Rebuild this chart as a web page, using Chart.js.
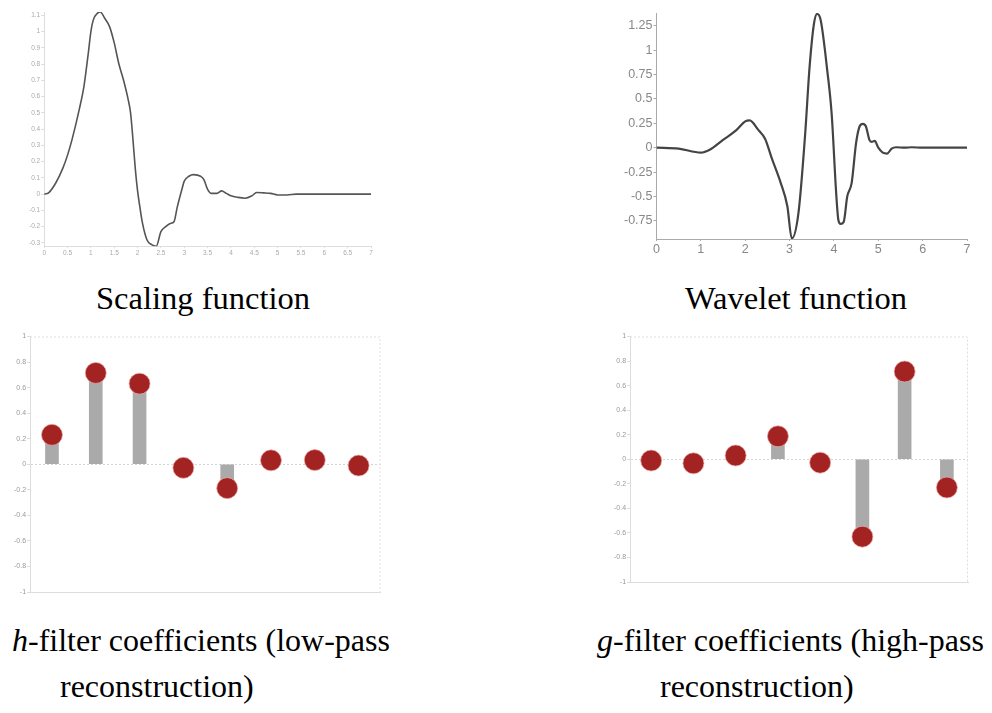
<!DOCTYPE html>
<html>
<head>
<meta charset="utf-8">
<script src="https://cdn.jsdelivr.net/npm/chart.js@4"></script>
<style>
  body { margin: 0; background: #fff; width: 992px; height: 713px; position: relative; overflow: hidden; }
  .box { position: absolute; }
  .cap { position: absolute; font-family: "Liberation Serif", "Times New Roman", serif; font-size: 32.5px; line-height: 46px; color: #000; white-space: nowrap; }
  .cap.low { font-size: 32px; }
</style>
</head>
<body>
<div class="box" id="b1" style="left:0;top:0;width:380px;height:262px"><canvas id="phiChart"></canvas></div>
<div class="box" id="b2" style="left:600px;top:0;width:392px;height:262px"><canvas id="psiChart"></canvas></div>
<div class="box" id="b3" style="left:0;top:325px;width:392px;height:285px"><canvas id="hChart"></canvas></div>
<div class="box" id="b4" style="left:590px;top:325px;width:392px;height:280px"><canvas id="gChart"></canvas></div>

<div class="cap" style="left:0;width:406px;top:275px;text-align:center">Scaling function</div>
<div class="cap" style="left:600px;width:392px;top:275px;text-align:center">Wavelet function</div>
<div class="cap low" style="left:12px;top:617px"><i>h</i>-filter coefficients (low-pass</div>
<div class="cap low" style="left:60px;top:663px">reconstruction)</div>
<div class="cap low" style="left:597px;top:617px"><i>g</i>-filter coefficients (high-pass</div>
<div class="cap low" style="left:660px;top:663px">reconstruction)</div>

<script>
// scaling function samples
const phiX = [0, 0.1, 0.25, 0.4, 0.5, 0.6, 0.75, 0.85, 0.95, 1.0, 1.05, 1.15, 1.2, 1.3, 1.4, 1.5, 1.6, 1.7, 1.8, 1.85, 1.9, 1.95,
  2.0, 2.05, 2.1, 2.2, 2.3, 2.4, 2.5, 2.6, 2.7, 2.78, 2.85, 2.95, 3.0, 3.1, 3.2, 3.35, 3.42, 3.5, 3.58, 3.7, 3.8, 3.9,
  4.0, 4.15, 4.3, 4.45, 4.55, 4.7, 4.85, 5.0, 5.2, 5.4, 6.0, 7.0];
const phiY = [0, 0.01, 0.07, 0.16, 0.24, 0.34, 0.52, 0.66, 0.88, 1.0, 1.07, 1.115, 1.12, 1.08, 1.03, 0.93, 0.80, 0.70, 0.58, 0.50, 0.34, 0.16,
  0.02, -0.08, -0.17, -0.28, -0.31, -0.32, -0.23, -0.2, -0.18, -0.17, -0.08, 0.03, 0.08, 0.11, 0.12, 0.11, 0.09, 0.03, 0.005, 0.005, 0.02, 0.005,
  -0.01, -0.02, -0.025, -0.01, 0.01, 0.008, 0.005, -0.005, -0.005, 0, 0, 0];

// wavelet function samples
const psiX = [0, 0.5, 1.0, 1.2, 1.5, 1.8, 2.0, 2.1, 2.3, 2.45, 2.6, 2.8, 2.95, 3.05, 3.2, 3.35, 3.45, 3.55, 3.62, 3.7, 3.85, 3.95,
  4.05, 4.1, 4.15, 4.22, 4.3, 4.4, 4.5, 4.58, 4.65, 4.72, 4.8, 4.85, 4.92, 5.0, 5.1, 5.2, 5.3, 5.4, 5.6, 5.75, 6.0, 7.0];
const psiY = [0, -0.01, -0.05, -0.02, 0.08, 0.18, 0.27, 0.28, 0.18, 0.09, -0.11, -0.36, -0.6, -0.93, -0.67, 0.13, 0.82, 1.27, 1.37, 1.31, 0.79, 0.34,
  -0.46, -0.74, -0.78, -0.76, -0.5, -0.36, 0.05, 0.22, 0.245, 0.22, 0.08, 0.06, 0.07, 0, -0.05, -0.06, -0.01, 0.005, 0, 0.005, 0, 0];

// filter taps
const taps = ['0', '1', '2', '3', '4', '5', '6', '7'];
const hCoef = [0.2304, 0.7148, 0.6309, -0.0280, -0.1870, 0.0308, 0.0329, -0.0106];
const gCoef = [-0.0106, -0.0329, 0.0308, 0.1870, -0.0280, -0.6309, 0.7148, -0.2304];

const phiTicks = { min: -0.32, max: 1.12, step: 0.1 };
const psiTicks = { min: -0.935, max: 1.38, step: 0.25 };

const sans = '"Liberation Sans", Arial, sans-serif';
Chart.defaults.font.family = sans;
Chart.defaults.animation = false;

// plain labels: 1, 0.5, -0.25 (no padded decimals)
const plain = v => String(Math.round(v * 1000) / 1000);

function toPoints(xs, ys) {
  return xs.map((x, i) => ({ x: x, y: ys[i] }));
}

function curveChart(id, xs, ys, range, xStep, opts) {
  return new Chart(document.getElementById(id), {
    type: 'line',
    data: {
      datasets: [{
        data: toPoints(xs, ys),
        borderColor: opts.color,
        borderWidth: opts.width,
        pointRadius: 0,
        cubicInterpolationMode: 'monotone',
        fill: false
      }]
    },
    options: {
      responsive: true,
      maintainAspectRatio: false,
      layout: { padding: opts.padding },
      plugins: { legend: { display: false }, tooltip: { enabled: false } },
      scales: {
        x: {
          type: 'linear', min: 0, max: 7,
          grid: { drawOnChartArea: false, drawTicks: true, tickLength: 2, tickColor: opts.axis },
          border: { color: opts.axis, width: 1 },
          ticks: { stepSize: xStep, maxRotation: 0, autoSkip: false, padding: 1, color: opts.tick, font: { size: opts.font }, callback: plain }
        },
        y: {
          min: range.min, max: range.max,
          grid: { drawOnChartArea: false, drawTicks: true, tickLength: 3, tickColor: opts.axis },
          border: { color: opts.axis, width: 1 },
          ticks: { stepSize: range.step, includeBounds: false, autoSkip: false, padding: 1, color: opts.tick, font: { size: opts.font }, callback: plain }
        }
      }
    }
  });
}

curveChart('phiChart', phiX, phiY, phiTicks, 0.5, {
  color: '#555', width: 1.6, axis: '#ddd', tick: '#aaa', font: 6.5,
  padding: { left: 28, top: 12, right: 9, bottom: 4 }
});
curveChart('psiChart', psiX, psiY, psiTicks, 1, {
  color: '#444', width: 2.2, axis: '#aaa', tick: '#888', font: 12.5,
  padding: { left: 23, top: 13, right: 25, bottom: 4 }
});

// dotted frame on the top and right of the plot area
const frame = {
  id: 'frame',
  beforeDatasetsDraw(chart) {
    const { ctx, chartArea: a } = chart;
    ctx.save();
    ctx.strokeStyle = '#ddd';
    ctx.lineWidth = 1;
    ctx.setLineDash([2, 2]);
    ctx.beginPath();
    ctx.moveTo(a.left, a.top + 0.5);
    ctx.lineTo(a.right - 0.5, a.top + 0.5);
    ctx.lineTo(a.right - 0.5, a.bottom);
    ctx.stroke();
    ctx.restore();
  }
};

function stemChart(id, values, padding) {
  return new Chart(document.getElementById(id), {
    type: 'bar',
    data: {
      labels: taps,
      datasets: [{
        type: 'line',
        data: values,
        showLine: false,
        pointRadius: 10.5,
        pointBackgroundColor: '#a32222',
        pointBorderColor: 'rgba(235,170,170,0.7)',
        pointBorderWidth: 1,
        order: 0
      }, {
        data: values,
        backgroundColor: '#aaa',
        barThickness: 13,
        order: 1
      }]
    },
    options: {
      responsive: true,
      maintainAspectRatio: false,
      layout: { padding: padding },
      plugins: { legend: { display: false }, tooltip: { enabled: false } },
      scales: {
        x: {
          grid: { display: false },
          border: { color: '#ddd', width: 1 },
          ticks: { display: false }
        },
        y: {
          min: -1, max: 1,
          grid: {
            color: c => c.tick && c.tick.value === 0 ? '#d4d4d4' : 'rgba(0,0,0,0)',
            tickColor: '#ddd', tickLength: 3
          },
          border: { color: '#ddd', width: 1, dash: [2, 2] },
          ticks: { stepSize: 0.2, padding: 1, color: '#999', font: { size: 7 }, callback: plain }
        }
      }
    },
    plugins: [frame]
  });
}

stemChart('hChart', hCoef, { left: 13, top: 11, right: 11, bottom: 10 });
stemChart('gChart', gCoef, { left: 23, top: 11, right: 14, bottom: 15 });
</script>
</body>
</html>
